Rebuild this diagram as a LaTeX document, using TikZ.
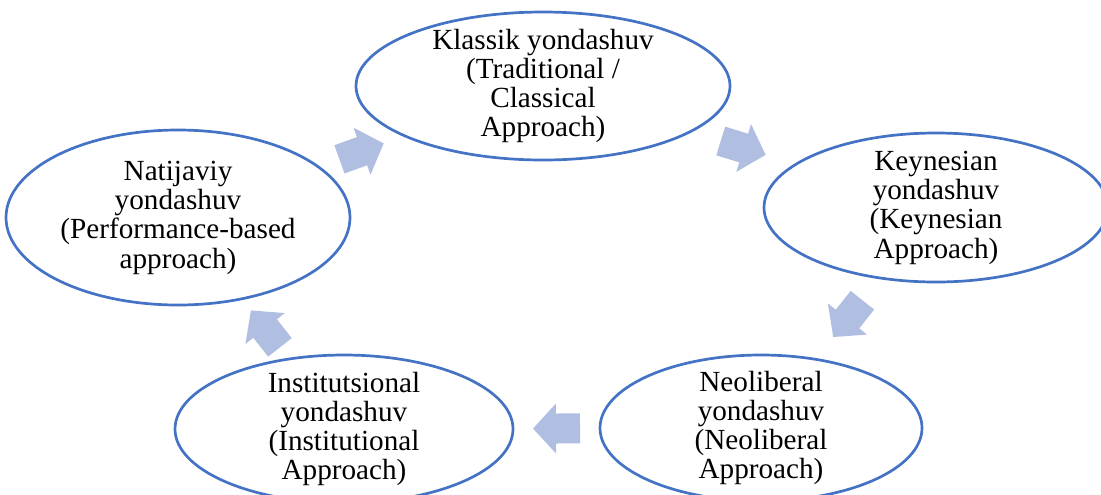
\documentclass[tikz,border=0pt]{standalone}
\usepackage{fontspec}
\setmainfont{Liberation Serif}
\usetikzlibrary{shapes.geometric}
\definecolor{ellblue}{HTML}{4472C4}
\definecolor{arrblue}{RGB}{176,190,226}

\begin{document}
\begin{tikzpicture}[
		approach/.style = {ellipse, draw = ellblue, line width = 1.35pt, inner sep = 0pt, outer sep = 0pt},
		approachtext/.style = {align = center, inner sep = 0pt, font = \fontsize{14.6}{14.65}\selectfont},
		cyclearrow/.style = {pos = .5, sloped, allow upside down},
		blockarrow/.pic = {
				\fill[arrblue] (-11.75pt,-7.5pt) -- (0.25pt,-7.5pt) -- (0.25pt,-12.5pt) -- (11.75pt,0pt)
					-- (0.25pt,12.5pt) -- (0.25pt,7.5pt) -- (-11.75pt,7.5pt) -- cycle;
			}
	]
	\useasboundingbox (0,0) rectangle (550.5pt,-247pt);
	\node[approach, minimum width = 187pt, minimum height = 74pt,
		label = {[approachtext]center:Klassik yondashuv\\(Traditional /\\Classical\\Approach)}] at (271.5pt,-43pt) (node1) {};
	\node[approach, minimum width = 172pt, minimum height = 74.5pt,
		label = {[approachtext]center:Keynesian\\yondashuv\\(Keynesian\\Approach)}] at ([xshift = 196.5pt, yshift = -60.75pt]node1) (node2) {};
	\node[approach, minimum width = 161pt, minimum height = 73pt,
		label = {[approachtext]center:Neoliberal\\yondashuv\\(Neoliberal\\Approach)}] at ([xshift = 109pt, yshift = -171pt]node1) (node3) {};
	\node[approach, minimum width = 169pt, minimum height = 74pt,
		label = {[approachtext]center:Institutsional\\yondashuv\\(Institutional\\Approach)}] at ([xshift = -99.5pt, yshift = -171.5pt]node1) (node4) {};
	\node[approach, minimum width = 172pt, minimum height = 87.5pt,
		label = {[approachtext]center:Natijaviy\\yondashuv\\(Performance-based\\approach)}] at ([xshift = -182.5pt, yshift = -65.75pt]node1) (node5) {};

	\foreach \i/\j in {1/2, 2/3, 3/4, 4/5, 5/1}
		{
			\path (node\i) -- pic[cyclearrow] {blockarrow} (node\j);
		}
\end{tikzpicture}
\end{document}
